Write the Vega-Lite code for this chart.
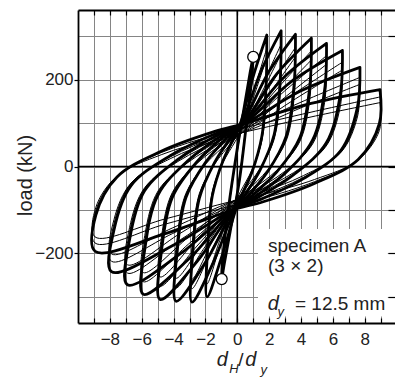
{
"$schema":"https://vega.github.io/schema/vega-lite/v6.json",
"width":317,"height":313,
"autosize":{"type":"none"},
"padding":{"left":78,"top":10,"right":0,"bottom":55},
"background":"white",
"config":{"view":{"stroke":null},"axis":{"labelFont":"Liberation Sans","titleFont":"Liberation Sans","labelColor":"#222","titleColor":"#222","domainColor":"#000","tickColor":"#000","labelFlush":false,"labelOverlap":false,"gridColor":"#858585","gridWidth":1,"gridOpacity":1}},
"resolve":{"axis":{"x":"independent","y":"independent"}},
"datasets":{
"loops":[
{"k":"1a","n":1,"x":1.0,"y":255},{"k":"1a","n":1,"x":0.9,"y":200},{"k":"1a","n":1,"x":0.55,"y":90},{"k":"1a","n":1,"x":0.1,"y":-40},{"k":"1a","n":1,"x":-0.45,"y":-150},{"k":"1a","n":1,"x":-0.8,"y":-220},{"k":"1a","n":1,"x":-1.0,"y":-262},{"k":"1a","n":1,"x":-0.9,"y":-205},{"k":"1a","n":1,"x":-0.55,"y":-95},{"k":"1a","n":1,"x":-0.05,"y":30},{"k":"1a","n":1,"x":0.45,"y":140},{"k":"1a","n":1,"x":0.8,"y":215},{"k":"1a","n":1,"x":1.0,"y":255},
{"k":"1b","n":2,"x":0.95,"y":235},{"k":"1b","n":2,"x":0.85,"y":185},{"k":"1b","n":2,"x":0.5,"y":80},{"k":"1b","n":2,"x":0.05,"y":-45},{"k":"1b","n":2,"x":-0.5,"y":-150},{"k":"1b","n":2,"x":-0.8,"y":-205},{"k":"1b","n":2,"x":-0.95,"y":-240},{"k":"1b","n":2,"x":-0.85,"y":-190},{"k":"1b","n":2,"x":-0.5,"y":-85},{"k":"1b","n":2,"x":0,"y":35},{"k":"1b","n":2,"x":0.5,"y":140},{"k":"1b","n":2,"x":0.8,"y":195},{"k":"1b","n":2,"x":0.95,"y":235},
{"k":"2a","n":1,"x":1.85,"y":302},{"k":"2a","n":1,"x":1.81,"y":189},{"k":"2a","n":1,"x":1.54,"y":69},{"k":"2a","n":1,"x":0.93,"y":-12},{"k":"2a","n":1,"x":0.21,"y":-72},{"k":"2a","n":1,"x":-0.1,"y":-100},{"k":"2a","n":1,"x":-1.05,"y":-216},{"k":"2a","n":1,"x":-1.9,"y":-300},{"k":"2a","n":1,"x":-1.86,"y":-188},{"k":"2a","n":1,"x":-1.57,"y":-68},{"k":"2a","n":1,"x":-0.91,"y":12},{"k":"2a","n":1,"x":-0.14,"y":72},{"k":"2a","n":1,"x":0.2,"y":100},{"k":"2a","n":1,"x":1.08,"y":217},{"k":"2a","n":1,"x":1.85,"y":302},
{"k":"2b","n":2,"x":1.85,"y":272},{"k":"2b","n":2,"x":1.81,"y":171},{"k":"2b","n":2,"x":1.54,"y":62},{"k":"2b","n":2,"x":0.93,"y":-10},{"k":"2b","n":2,"x":0.21,"y":-65},{"k":"2b","n":2,"x":-0.1,"y":-90},{"k":"2b","n":2,"x":-1.05,"y":-180},{"k":"2b","n":2,"x":-1.9,"y":-270},{"k":"2b","n":2,"x":-1.86,"y":-169},{"k":"2b","n":2,"x":-1.57,"y":-61},{"k":"2b","n":2,"x":-0.91,"y":11},{"k":"2b","n":2,"x":-0.14,"y":65},{"k":"2b","n":2,"x":0.2,"y":90},{"k":"2b","n":2,"x":1.08,"y":181},{"k":"2b","n":2,"x":1.85,"y":272},
{"k":"2c","n":2,"x":1.85,"y":251},{"k":"2c","n":2,"x":1.81,"y":158},{"k":"2c","n":2,"x":1.54,"y":59},{"k":"2c","n":2,"x":0.93,"y":-7},{"k":"2c","n":2,"x":0.21,"y":-57},{"k":"2c","n":2,"x":-0.1,"y":-80},{"k":"2c","n":2,"x":-1.05,"y":-165},{"k":"2c","n":2,"x":-1.9,"y":-249},{"k":"2c","n":2,"x":-1.86,"y":-157},{"k":"2c","n":2,"x":-1.57,"y":-58},{"k":"2c","n":2,"x":-0.91,"y":8},{"k":"2c","n":2,"x":-0.14,"y":57},{"k":"2c","n":2,"x":0.2,"y":80},{"k":"2c","n":2,"x":1.08,"y":166},{"k":"2c","n":2,"x":1.85,"y":251},
{"k":"3a","n":1,"x":2.75,"y":312},{"k":"3a","n":1,"x":2.69,"y":197},{"k":"3a","n":1,"x":2.31,"y":73},{"k":"3a","n":1,"x":1.42,"y":-9},{"k":"3a","n":1,"x":0.39,"y":-71},{"k":"3a","n":1,"x":-0.15,"y":-100},{"k":"3a","n":1,"x":-1.53,"y":-223},{"k":"3a","n":1,"x":-2.85,"y":-312},{"k":"3a","n":1,"x":-2.79,"y":-197},{"k":"3a","n":1,"x":-2.38,"y":-73},{"k":"3a","n":1,"x":-1.43,"y":9},{"k":"3a","n":1,"x":-0.33,"y":71},{"k":"3a","n":1,"x":0.25,"y":100},{"k":"3a","n":1,"x":1.53,"y":223},{"k":"3a","n":1,"x":2.75,"y":312},
{"k":"3b","n":2,"x":2.75,"y":281},{"k":"3b","n":2,"x":2.69,"y":177},{"k":"3b","n":2,"x":2.31,"y":66},{"k":"3b","n":2,"x":1.42,"y":-8},{"k":"3b","n":2,"x":0.39,"y":-64},{"k":"3b","n":2,"x":-0.15,"y":-90},{"k":"3b","n":2,"x":-1.53,"y":-186},{"k":"3b","n":2,"x":-2.85,"y":-281},{"k":"3b","n":2,"x":-2.79,"y":-177},{"k":"3b","n":2,"x":-2.38,"y":-66},{"k":"3b","n":2,"x":-1.43,"y":8},{"k":"3b","n":2,"x":-0.33,"y":64},{"k":"3b","n":2,"x":0.25,"y":90},{"k":"3b","n":2,"x":1.53,"y":186},{"k":"3b","n":2,"x":2.75,"y":281},
{"k":"3c","n":2,"x":2.75,"y":259},{"k":"3c","n":2,"x":2.69,"y":164},{"k":"3c","n":2,"x":2.31,"y":62},{"k":"3c","n":2,"x":1.42,"y":-5},{"k":"3c","n":2,"x":0.39,"y":-56},{"k":"3c","n":2,"x":-0.15,"y":-80},{"k":"3c","n":2,"x":-1.53,"y":-170},{"k":"3c","n":2,"x":-2.85,"y":-259},{"k":"3c","n":2,"x":-2.79,"y":-164},{"k":"3c","n":2,"x":-2.38,"y":-62},{"k":"3c","n":2,"x":-1.43,"y":5},{"k":"3c","n":2,"x":-0.33,"y":56},{"k":"3c","n":2,"x":0.25,"y":80},{"k":"3c","n":2,"x":1.53,"y":170},{"k":"3c","n":2,"x":2.75,"y":259},
{"k":"4a","n":1,"x":3.65,"y":304},{"k":"4a","n":1,"x":3.57,"y":191},{"k":"4a","n":1,"x":3.07,"y":70},{"k":"4a","n":1,"x":1.92,"y":-11},{"k":"4a","n":1,"x":0.57,"y":-72},{"k":"4a","n":1,"x":-0.2,"y":-100},{"k":"4a","n":1,"x":-2.03,"y":-222},{"k":"4a","n":1,"x":-3.85,"y":-310},{"k":"4a","n":1,"x":-3.77,"y":-195},{"k":"4a","n":1,"x":-3.23,"y":-72},{"k":"4a","n":1,"x":-1.98,"y":10},{"k":"4a","n":1,"x":-0.53,"y":71},{"k":"4a","n":1,"x":0.3,"y":100},{"k":"4a","n":1,"x":1.98,"y":218},{"k":"4a","n":1,"x":3.65,"y":304},
{"k":"4b","n":2,"x":3.65,"y":274},{"k":"4b","n":2,"x":3.57,"y":172},{"k":"4b","n":2,"x":3.07,"y":63},{"k":"4b","n":2,"x":1.92,"y":-10},{"k":"4b","n":2,"x":0.57,"y":-65},{"k":"4b","n":2,"x":-0.2,"y":-90},{"k":"4b","n":2,"x":-2.03,"y":-185},{"k":"4b","n":2,"x":-3.85,"y":-279},{"k":"4b","n":2,"x":-3.77,"y":-176},{"k":"4b","n":2,"x":-3.23,"y":-65},{"k":"4b","n":2,"x":-1.98,"y":9},{"k":"4b","n":2,"x":-0.53,"y":64},{"k":"4b","n":2,"x":0.3,"y":90},{"k":"4b","n":2,"x":1.98,"y":182},{"k":"4b","n":2,"x":3.65,"y":274},
{"k":"4c","n":2,"x":3.65,"y":252},{"k":"4c","n":2,"x":3.57,"y":159},{"k":"4c","n":2,"x":3.07,"y":59},{"k":"4c","n":2,"x":1.92,"y":-7},{"k":"4c","n":2,"x":0.57,"y":-57},{"k":"4c","n":2,"x":-0.2,"y":-80},{"k":"4c","n":2,"x":-2.03,"y":-169},{"k":"4c","n":2,"x":-3.85,"y":-257},{"k":"4c","n":2,"x":-3.77,"y":-163},{"k":"4c","n":2,"x":-3.23,"y":-62},{"k":"4c","n":2,"x":-1.98,"y":6},{"k":"4c","n":2,"x":-0.53,"y":56},{"k":"4c","n":2,"x":0.3,"y":80},{"k":"4c","n":2,"x":1.98,"y":166},{"k":"4c","n":2,"x":3.65,"y":252},
{"k":"5a","n":1,"x":4.65,"y":295},{"k":"5a","n":1,"x":4.55,"y":184},{"k":"5a","n":1,"x":3.92,"y":66},{"k":"5a","n":1,"x":2.47,"y":-13},{"k":"5a","n":1,"x":0.77,"y":-72},{"k":"5a","n":1,"x":-0.22,"y":-100},{"k":"5a","n":1,"x":-2.53,"y":-219},{"k":"5a","n":1,"x":-4.85,"y":-306},{"k":"5a","n":1,"x":-4.75,"y":-192},{"k":"5a","n":1,"x":-4.08,"y":-71},{"k":"5a","n":1,"x":-2.53,"y":11},{"k":"5a","n":1,"x":-0.73,"y":72},{"k":"5a","n":1,"x":0.35,"y":100},{"k":"5a","n":1,"x":2.48,"y":213},{"k":"5a","n":1,"x":4.65,"y":295},
{"k":"5b","n":2,"x":4.65,"y":266},{"k":"5b","n":2,"x":4.55,"y":166},{"k":"5b","n":2,"x":3.92,"y":60},{"k":"5b","n":2,"x":2.47,"y":-12},{"k":"5b","n":2,"x":0.77,"y":-65},{"k":"5b","n":2,"x":-0.22,"y":-90},{"k":"5b","n":2,"x":-2.53,"y":-183},{"k":"5b","n":2,"x":-4.85,"y":-275},{"k":"5b","n":2,"x":-4.75,"y":-173},{"k":"5b","n":2,"x":-4.08,"y":-63},{"k":"5b","n":2,"x":-2.53,"y":10},{"k":"5b","n":2,"x":-0.73,"y":64},{"k":"5b","n":2,"x":0.35,"y":90},{"k":"5b","n":2,"x":2.48,"y":178},{"k":"5b","n":2,"x":4.65,"y":266},
{"k":"5c","n":2,"x":4.65,"y":245},{"k":"5c","n":2,"x":4.55,"y":154},{"k":"5c","n":2,"x":3.92,"y":57},{"k":"5c","n":2,"x":2.47,"y":-9},{"k":"5c","n":2,"x":0.77,"y":-57},{"k":"5c","n":2,"x":-0.22,"y":-80},{"k":"5c","n":2,"x":-2.53,"y":-167},{"k":"5c","n":2,"x":-4.85,"y":-254},{"k":"5c","n":2,"x":-4.75,"y":-160},{"k":"5c","n":2,"x":-4.08,"y":-60},{"k":"5c","n":2,"x":-2.53,"y":7},{"k":"5c","n":2,"x":-0.73,"y":57},{"k":"5c","n":2,"x":0.35,"y":80},{"k":"5c","n":2,"x":2.48,"y":163},{"k":"5c","n":2,"x":4.65,"y":245},
{"k":"6a","n":1,"x":5.6,"y":283},{"k":"6a","n":1,"x":5.48,"y":176},{"k":"6a","n":1,"x":4.73,"y":61},{"k":"6a","n":1,"x":2.99,"y":-16},{"k":"6a","n":1,"x":0.96,"y":-73},{"k":"6a","n":1,"x":-0.25,"y":-100},{"k":"6a","n":1,"x":-3.05,"y":-213},{"k":"6a","n":1,"x":-5.9,"y":-294},{"k":"6a","n":1,"x":-5.78,"y":-184},{"k":"6a","n":1,"x":-4.97,"y":-65},{"k":"6a","n":1,"x":-3.11,"y":13},{"k":"6a","n":1,"x":-0.94,"y":72},{"k":"6a","n":1,"x":0.4,"y":100},{"k":"6a","n":1,"x":2.95,"y":206},{"k":"6a","n":1,"x":5.6,"y":283},
{"k":"6b","n":2,"x":5.6,"y":255},{"k":"6b","n":2,"x":5.48,"y":158},{"k":"6b","n":2,"x":4.73,"y":55},{"k":"6b","n":2,"x":2.99,"y":-14},{"k":"6b","n":2,"x":0.96,"y":-66},{"k":"6b","n":2,"x":-0.25,"y":-90},{"k":"6b","n":2,"x":-3.05,"y":-178},{"k":"6b","n":2,"x":-5.9,"y":-265},{"k":"6b","n":2,"x":-5.78,"y":-166},{"k":"6b","n":2,"x":-4.97,"y":-59},{"k":"6b","n":2,"x":-3.11,"y":12},{"k":"6b","n":2,"x":-0.94,"y":65},{"k":"6b","n":2,"x":0.4,"y":90},{"k":"6b","n":2,"x":2.95,"y":173},{"k":"6b","n":2,"x":5.6,"y":255},
{"k":"6c","n":2,"x":5.6,"y":235},{"k":"6c","n":2,"x":5.48,"y":147},{"k":"6c","n":2,"x":4.73,"y":52},{"k":"6c","n":2,"x":2.99,"y":-11},{"k":"6c","n":2,"x":0.96,"y":-58},{"k":"6c","n":2,"x":-0.25,"y":-80},{"k":"6c","n":2,"x":-3.05,"y":-162},{"k":"6c","n":2,"x":-5.9,"y":-244},{"k":"6c","n":2,"x":-5.78,"y":-153},{"k":"6c","n":2,"x":-4.97,"y":-56},{"k":"6c","n":2,"x":-3.11,"y":9},{"k":"6c","n":2,"x":-0.94,"y":57},{"k":"6c","n":2,"x":0.4,"y":80},{"k":"6c","n":2,"x":2.95,"y":158},{"k":"6c","n":2,"x":5.6,"y":235},
{"k":"7a","n":1,"x":6.6,"y":267},{"k":"7a","n":1,"x":6.46,"y":164},{"k":"7a","n":1,"x":5.58,"y":54},{"k":"7a","n":1,"x":3.54,"y":-19},{"k":"7a","n":1,"x":1.16,"y":-74},{"k":"7a","n":1,"x":-0.28,"y":-100},{"k":"7a","n":1,"x":-3.55,"y":-200},{"k":"7a","n":1,"x":-6.9,"y":-272},{"k":"7a","n":1,"x":-6.76,"y":-168},{"k":"7a","n":1,"x":-5.82,"y":-56},{"k":"7a","n":1,"x":-3.66,"y":18},{"k":"7a","n":1,"x":-1.14,"y":74},{"k":"7a","n":1,"x":0.45,"y":100},{"k":"7a","n":1,"x":3.45,"y":197},{"k":"7a","n":1,"x":6.6,"y":267},
{"k":"7b","n":2,"x":6.6,"y":240},{"k":"7b","n":2,"x":6.46,"y":148},{"k":"7b","n":2,"x":5.58,"y":49},{"k":"7b","n":2,"x":3.54,"y":-17},{"k":"7b","n":2,"x":1.16,"y":-67},{"k":"7b","n":2,"x":-0.28,"y":-90},{"k":"7b","n":2,"x":-3.55,"y":-168},{"k":"7b","n":2,"x":-6.9,"y":-245},{"k":"7b","n":2,"x":-6.76,"y":-151},{"k":"7b","n":2,"x":-5.82,"y":-51},{"k":"7b","n":2,"x":-3.66,"y":16},{"k":"7b","n":2,"x":-1.14,"y":67},{"k":"7b","n":2,"x":0.45,"y":90},{"k":"7b","n":2,"x":3.45,"y":165},{"k":"7b","n":2,"x":6.6,"y":240},
{"k":"7c","n":2,"x":6.6,"y":222},{"k":"7c","n":2,"x":6.46,"y":137},{"k":"7c","n":2,"x":5.58,"y":47},{"k":"7c","n":2,"x":3.54,"y":-14},{"k":"7c","n":2,"x":1.16,"y":-59},{"k":"7c","n":2,"x":-0.28,"y":-80},{"k":"7c","n":2,"x":-3.55,"y":-153},{"k":"7c","n":2,"x":-6.9,"y":-226},{"k":"7c","n":2,"x":-6.76,"y":-140},{"k":"7c","n":2,"x":-5.82,"y":-49},{"k":"7c","n":2,"x":-3.66,"y":13},{"k":"7c","n":2,"x":-1.14,"y":59},{"k":"7c","n":2,"x":0.45,"y":80},{"k":"7c","n":2,"x":3.45,"y":151},{"k":"7c","n":2,"x":6.6,"y":222},
{"k":"8a","n":1,"x":7.7,"y":228},{"k":"8a","n":1,"x":7.54,"y":136},{"k":"8a","n":1,"x":6.52,"y":38},{"k":"8a","n":1,"x":4.15,"y":-28},{"k":"8a","n":1,"x":1.38,"y":-77},{"k":"8a","n":1,"x":-0.3,"y":-100},{"k":"8a","n":1,"x":-4.05,"y":-182},{"k":"8a","n":1,"x":-7.9,"y":-242},{"k":"8a","n":1,"x":-7.74,"y":-146},{"k":"8a","n":1,"x":-6.67,"y":-44},{"k":"8a","n":1,"x":-4.21,"y":25},{"k":"8a","n":1,"x":-1.34,"y":76},{"k":"8a","n":1,"x":0.5,"y":100},{"k":"8a","n":1,"x":4.0,"y":174},{"k":"8a","n":1,"x":7.7,"y":228},
{"k":"8b","n":2,"x":7.7,"y":205},{"k":"8b","n":2,"x":7.54,"y":122},{"k":"8b","n":2,"x":6.52,"y":34},{"k":"8b","n":2,"x":4.15,"y":-25},{"k":"8b","n":2,"x":1.38,"y":-69},{"k":"8b","n":2,"x":-0.3,"y":-90},{"k":"8b","n":2,"x":-4.05,"y":-154},{"k":"8b","n":2,"x":-7.9,"y":-218},{"k":"8b","n":2,"x":-7.74,"y":-132},{"k":"8b","n":2,"x":-6.67,"y":-39},{"k":"8b","n":2,"x":-4.21,"y":22},{"k":"8b","n":2,"x":-1.34,"y":68},{"k":"8b","n":2,"x":0.5,"y":90},{"k":"8b","n":2,"x":4.0,"y":148},{"k":"8b","n":2,"x":7.7,"y":205},
{"k":"8c","n":2,"x":7.7,"y":189},{"k":"8c","n":2,"x":7.54,"y":114},{"k":"8c","n":2,"x":6.52,"y":33},{"k":"8c","n":2,"x":4.15,"y":-21},{"k":"8c","n":2,"x":1.38,"y":-61},{"k":"8c","n":2,"x":-0.3,"y":-80},{"k":"8c","n":2,"x":-4.05,"y":-141},{"k":"8c","n":2,"x":-7.9,"y":-201},{"k":"8c","n":2,"x":-7.74,"y":-122},{"k":"8c","n":2,"x":-6.67,"y":-38},{"k":"8c","n":2,"x":-4.21,"y":18},{"k":"8c","n":2,"x":-1.34,"y":60},{"k":"8c","n":2,"x":0.5,"y":80},{"k":"8c","n":2,"x":4.0,"y":135},{"k":"8c","n":2,"x":7.7,"y":189},
{"k":"9a","n":1,"x":8.96,"y":177},{"k":"9a","n":1,"x":8.92,"y":99},{"k":"9a","n":1,"x":7.59,"y":16},{"k":"9a","n":1,"x":4.84,"y":-39},{"k":"9a","n":1,"x":1.63,"y":-81},{"k":"9a","n":1,"x":-0.32,"y":-100},{"k":"9a","n":1,"x":-4.57,"y":-155},{"k":"9a","n":1,"x":-8.93,"y":-195},{"k":"9a","n":1,"x":-8.88,"y":-112},{"k":"9a","n":1,"x":-7.55,"y":-24},{"k":"9a","n":1,"x":-4.78,"y":35},{"k":"9a","n":1,"x":-1.55,"y":79},{"k":"9a","n":1,"x":0.55,"y":100},{"k":"9a","n":1,"x":4.63,"y":145},{"k":"9a","n":1,"x":8.96,"y":177},
{"k":"9b","n":2,"x":8.96,"y":160},{"k":"9b","n":2,"x":8.92,"y":90},{"k":"9b","n":2,"x":7.59,"y":15},{"k":"9b","n":2,"x":4.84,"y":-35},{"k":"9b","n":2,"x":1.63,"y":-73},{"k":"9b","n":2,"x":-0.32,"y":-90},{"k":"9b","n":2,"x":-4.57,"y":-133},{"k":"9b","n":2,"x":-8.93,"y":-176},{"k":"9b","n":2,"x":-8.88,"y":-102},{"k":"9b","n":2,"x":-7.55,"y":-22},{"k":"9b","n":2,"x":-4.78,"y":32},{"k":"9b","n":2,"x":-1.55,"y":71},{"k":"9b","n":2,"x":0.55,"y":90},{"k":"9b","n":2,"x":4.63,"y":125},{"k":"9b","n":2,"x":8.96,"y":160},
{"k":"9c","n":2,"x":8.96,"y":147},{"k":"9c","n":2,"x":8.92,"y":83},{"k":"9c","n":2,"x":7.59,"y":15},{"k":"9c","n":2,"x":4.84,"y":-30},{"k":"9c","n":2,"x":1.63,"y":-64},{"k":"9c","n":2,"x":-0.32,"y":-80},{"k":"9c","n":2,"x":-4.57,"y":-121},{"k":"9c","n":2,"x":-8.93,"y":-162},{"k":"9c","n":2,"x":-8.88,"y":-94},{"k":"9c","n":2,"x":-7.55,"y":-22},{"k":"9c","n":2,"x":-4.78,"y":27},{"k":"9c","n":2,"x":-1.55,"y":63},{"k":"9c","n":2,"x":0.55,"y":80},{"k":"9c","n":2,"x":4.63,"y":114},{"k":"9c","n":2,"x":8.96,"y":147}
],
"yield":[{"x":1.0,"y":252},{"x":-0.98,"y":-259}],
"box":[{"x":1.3,"x2":9.45,"y":-144,"y2":-345}],
"txtN":[{"t":"specimen A","x":1.93,"y":-196},{"t":"(3 × 2)","x":1.93,"y":-242},{"t":"= 12.5 mm","x":3.62,"y":-330},{"t":"/","x":0.06,"y":-460}],
"txtI":[{"t":"d","x":-1.29,"y":-460},{"t":"d","x":0.5,"y":-460},{"t":"d","x":1.91,"y":-330}],
"txtS":[{"t":"H","x":-0.5,"y":-475},{"t":"y","x":1.46,"y":-477},{"t":"y","x":2.52,"y":-344}]
},
"layer":[
{"data":{"values":[{"x":0}]},"mark":{"type":"rule","color":"#000","strokeWidth":1.6},
 "encoding":{"x":{"field":"x","type":"quantitative","scale":{"domain":[-10,9.9],"nice":false,"zero":false},"axis":null}}},
{"data":{"values":[{"y":0}]},"mark":{"type":"rule","color":"#000","strokeWidth":1.6},
 "encoding":{"y":{"field":"y","type":"quantitative","scale":{"domain":[-360,360],"nice":false,"zero":false},"axis":null}}},
{"data":{"name":"box"},"mark":{"type":"rect","fill":"white","stroke":null},
 "encoding":{"x":{"field":"x","type":"quantitative","scale":{"domain":[-10,9.9],"nice":false,"zero":false},"axis":null},"x2":{"field":"x2"},
 "y":{"field":"y","type":"quantitative","scale":{"domain":[-360,360],"nice":false,"zero":false},"axis":null},"y2":{"field":"y2"}}},
{"data":{"name":"loops"},"mark":{"type":"line","interpolate":"catmull-rom","color":"#000","strokeJoin":"round","strokeCap":"round"},
 "encoding":{
  "x":{"field":"x","type":"quantitative","scale":{"domain":[-10,9.9],"nice":false,"zero":false},
   "axis":{"orient":"bottom","title":null,"values":[-9,-8,-7,-6,-5,-4,-3,-2,-1,0,1,2,3,4,5,6,7,8,9],"grid":true,"tickSize":-5,"tickWidth":1.2,"domainWidth":1.8,"labelFontSize":17,"labelPadding":13.5,"labelExpr":"datum.value % 2 === 0 ? datum.label : ''"}},
  "y":{"field":"y","type":"quantitative","scale":{"domain":[-360,360],"nice":false,"zero":false},
   "axis":{"orient":"left","values":[-200,0,200],"grid":false,"tickSize":4,"tickWidth":1.2,"domainWidth":1.8,"labelFontSize":17,"labelPadding":1,"title":"load (kN)","titleFontSize":20,"titleFontWeight":"normal","titleAngle":-90,"titleX":-53,"titleY":165,"titleAlign":"center","titleBaseline":"middle"}},
  "detail":{"field":"k","type":"nominal"},
  "strokeWidth":{"field":"n","type":"quantitative","scale":{"domain":[1,2],"range":[2.8,1.0]},"legend":null},
  "order":{"value":null}}},
{"data":{"name":"yield"},"mark":{"type":"point","shape":"circle","filled":true,"fill":"white","stroke":"#000","strokeWidth":1.3,"size":120,"opacity":1},
 "encoding":{
  "x":{"field":"x","type":"quantitative","scale":{"domain":[-10,9.9],"nice":false,"zero":false},
   "axis":{"orient":"top","title":null,"values":[-9,-8,-7,-6,-5,-4,-3,-2,-1,0,1,2,3,4,5,6,7,8,9],"grid":false,"labels":false,"tickSize":-5,"tickWidth":1.2,"domainWidth":1.8}},
  "y":{"field":"y","type":"quantitative","scale":{"domain":[-360,360],"nice":false,"zero":false},
   "axis":{"orient":"right","title":null,"values":[-300,-200,-100,0,100,200,300],"grid":true,"labels":false,"domain":false,"tickSize":-7,"tickWidth":1.2}}}},
{"data":{"name":"txtN"},"mark":{"type":"text","align":"left","baseline":"alphabetic","font":"Liberation Sans","fontSize":19,"color":"#222"},
 "encoding":{"x":{"field":"x","type":"quantitative","scale":{"domain":[-10,9.9],"nice":false,"zero":false},"axis":null},
 "y":{"field":"y","type":"quantitative","scale":{"domain":[-360,360],"nice":false,"zero":false},"axis":null},"text":{"field":"t"}}},
{"data":{"name":"txtI"},"mark":{"type":"text","align":"left","baseline":"alphabetic","font":"Liberation Sans","fontStyle":"italic","fontSize":20,"color":"#222"},
 "encoding":{"x":{"field":"x","type":"quantitative","scale":{"domain":[-10,9.9],"nice":false,"zero":false},"axis":null},
 "y":{"field":"y","type":"quantitative","scale":{"domain":[-360,360],"nice":false,"zero":false},"axis":null},"text":{"field":"t"}}},
{"data":{"name":"txtS"},"mark":{"type":"text","align":"left","baseline":"alphabetic","font":"Liberation Sans","fontStyle":"italic","fontSize":13,"color":"#222"},
 "encoding":{"x":{"field":"x","type":"quantitative","scale":{"domain":[-10,9.9],"nice":false,"zero":false},"axis":null},
 "y":{"field":"y","type":"quantitative","scale":{"domain":[-360,360],"nice":false,"zero":false},"axis":null},"text":{"field":"t"}}}
]
}
